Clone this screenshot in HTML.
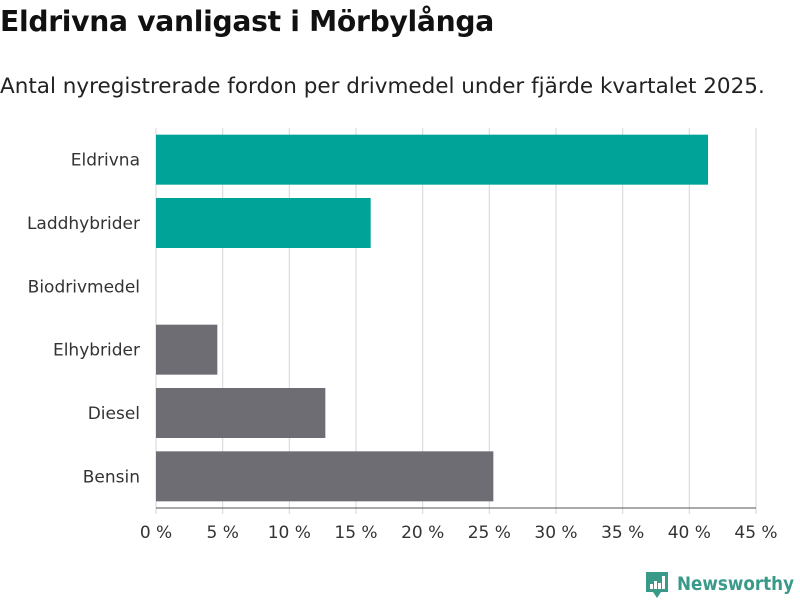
<!DOCTYPE html>
<html><head><meta charset="utf-8"><style>
body{margin:0;background:#fff;font-family:"DejaVu Sans","Liberation Sans",sans-serif;}
#wrap{position:relative;width:800px;height:600px;overflow:hidden;}
h1{position:absolute;left:0;top:5px;margin:0;font-size:28.2px;font-weight:bold;color:#111;letter-spacing:-0.3px;}
#sub{position:absolute;left:0;top:74px;font-size:21.5px;color:#222;}
</style></head><body>
<div id="wrap">
<h1>Eldrivna vanligast i Mörbylånga</h1>
<div id="sub">Antal nyregistrerade fordon per drivmedel under fjärde kvartalet 2025.</div>
<svg id="chart" width="800" height="600" style="position:absolute;left:0;top:0"></svg>
</div>
<script>
const categories=["Eldrivna","Laddhybrider","Biodrivmedel","Elhybrider","Diesel","Bensin"];
const values=[41.4,16.1,0,4.6,12.7,25.3];
const colors=["#00a398","#00a398","#00a398","#6e6d73","#6e6d73","#6e6d73"];
const ticks=[0,5,10,15,20,25,30,35,40,45];
const NS="http://www.w3.org/2000/svg";
const svg=document.getElementById('chart');
const x0=156,x1=756,ptop=128,pbottom=508,xmax=45;
const xs=v=>x0+(v/xmax)*(x1-x0);
const band=(pbottom-ptop)/categories.length;
const yc=i=>ptop+band*(i+0.5);
function mk(t,a){const e=document.createElementNS(NS,t);for(const k in a)e.setAttribute(k,a[k]);svg.appendChild(e);return e;}
ticks.forEach(t=>{
 const g=mk('line',{x1:xs(t),x2:xs(t),y1:ptop,y2:pbottom+6,stroke:'#ddd','stroke-width':1.2});
 
 
 const l=mk('text',{x:xs(t),y:538,'text-anchor':'middle','font-size':17,fill:'#333'});
 l.textContent=t+' %';
 
 
});
mk('line',{x1:x0,x2:x1,y1:pbottom,y2:pbottom,stroke:'#555','stroke-width':1});
categories.forEach((c,i)=>{
 const h=50;
 if(values[i]>0){
  const r=mk('rect',{x:x0,y:yc(i)-h/2,width:xs(values[i])-x0,height:h,fill:colors[i]});
  
  
 }
 const t=mk('text',{x:140,y:yc(i)+6,'text-anchor':'end','font-size':17,fill:'#333'});
 t.textContent=c;
 
 
});
const lg=mk('g',{});


const p=document.createElementNS(NS,'path');
p.setAttribute('d','M646 572h22v20h-7l-4 6-4-6h-7z');p.setAttribute('fill','#3a9a8a');lg.appendChild(p);
[[650,584,3,5],[654,581,3,8],[658,583,3,6],[662,576,3,13]].forEach(b=>{const r=document.createElementNS(NS,'rect');r.setAttribute('x',b[0]);r.setAttribute('y',b[1]);r.setAttribute('width',b[2]);r.setAttribute('height',b[3]);r.setAttribute('fill','#fff');lg.appendChild(r);});
const lt=document.createElementNS(NS,'text');
lt.setAttribute('x',677);lt.setAttribute('y',590);lt.setAttribute('font-size',19);lt.setAttribute('font-weight','bold');lt.setAttribute('fill','#3a9a8a');
lt.setAttribute('textLength',117);lt.setAttribute('lengthAdjust','spacingAndGlyphs');
lt.textContent='Newsworthy';lg.appendChild(lt);
</script>
</body></html>
